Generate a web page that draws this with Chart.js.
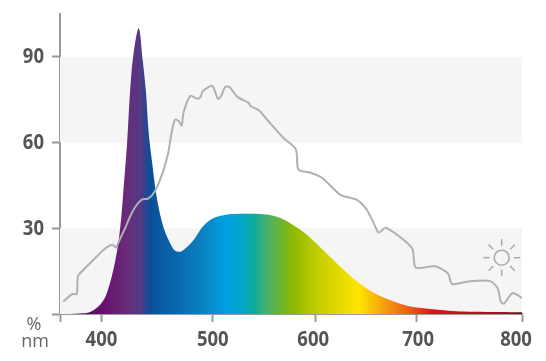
<!DOCTYPE html>
<html>
<head>
<meta charset="utf-8">
<style>html,body{margin:0;padding:0;background:#fff}#wrap{width:546px;height:361px}</style>
<script src="https://cdn.jsdelivr.net/npm/chart.js@4"></script>
</head>
<body>
<div id="wrap"><canvas id="c" width="546" height="361"></canvas></div>
<script>
// LED spectrum (wavelength nm, relative %)
const ledNm = [363,381,390,399,405,412.6,417,420,423,426,429,433.5,437,440,442.4,445.5,450,456,462,466,471,475,483,491,500,514,530,546,559,569,579,591,608,625,640,657,674,690,707,723,738,754,780,800];
const ledPct = [0,0.2,0.7,3.3,7.4,19,30.7,44.7,59.8,79.7,91.5,100,89,77.5,63.4,53,40,30,24.5,22.2,21.8,22.8,26,30.6,33.4,34.8,35.1,35,34.4,33.1,31,28,22.3,16.5,11.8,7.6,4.9,3,2,1.4,1,0.8,0.7,0.6];
// Daylight reference spectrum
const sunNm = [366,374,378,379,384,393,402,410,413,415,422,428,436,442,448,455,460,463,466,469.5,472,474,480,486,489,491,499,501.5,505,508,512,516,524,535,537,545,553,569,581,583,586,595,607,625,641,651,658,663,670,696,699.5,718,730,734,751,770,777,780,783,791,800];
const sunPct = [4.4,7,7,13.2,15.5,19,22.5,24.2,23.2,24.8,30.7,36,40,40.4,43,49.5,56.5,63.5,68,67.5,66,71,76.4,75.3,76,78,79.9,78.5,75.3,76.2,79.5,79.5,76,73.9,72.7,71.3,68,61.6,57.7,51,50.1,49.5,47.6,41.7,40,36.5,31.8,28.5,30.2,23,16.3,16.7,14.2,10.5,11.5,11.5,9,4.3,3.6,7.3,5.6];
// Axis ticks
const xTickValues = [363,400,500,600,700,800];
const xTickLabels = ['','400','500','600','700','800'];
const xTickFractions = [0,0.0897,0.3308,0.5524,0.7708,1];
const yTickValues = [0,30,60,90];
// Spectrum colours along the wavelength axis
const spectrumNm = [363,399,422,435,444,457,489,512,527,541,548,578,605,643,670,694,715,751,784,800];
const spectrumColors = ['#3a0a50','#660d6e','#6a2a7a','#533a84','#0a4f9a','#0a5ea5','#0a7fc0','#009fe0','#00a6c8','#10ab9a','#3aae80','#8cb900','#c8cf00','#ffe600','#f49a10','#ea5a14','#e4101c','#c80a1a','#a01020','#5a1010'];
const bands = [[0,30],[60,90]];

const xMin = xTickValues[0], xMax = xTickValues[xTickValues.length-1];
const squeeze = 0.84;
const toFraction = v => {
  let i = 0;
  while (i < xTickValues.length-2 && v > xTickValues[i+1]) i++;
  const a = xTickValues[i], b = xTickValues[i+1];
  return xTickFractions[i] + (v-a)/(b-a)*(xTickFractions[i+1]-xTickFractions[i]);
};
// Tick labels in the reference are a condensed face: squeeze them horizontally.
class CondensedScale extends Chart.LinearScale {
  labelNudge(){ return {}; }
  _computeLabelArea(){ return undefined; }
  _computeLabelItems(area){
    const items = super._computeLabelItems(area);
    const nudge = this.labelNudge();
    items.forEach(it => {
      const n = nudge[it.label] || 0;
      it.options.translation = [(it.options.translation[0]+n)/squeeze, it.options.translation[1]];
    });
    return items;
  }
  drawLabels(area){
    const ctx = this.ctx;
    ctx.save();
    ctx.scale(squeeze,1);
    super.drawLabels(area);
    ctx.restore();
  }
}
CondensedScale.id = 'condensed';
CondensedScale.defaults = Chart.LinearScale.defaults;
// The printed wavelength axis is not perfectly uniform: map it piecewise.
class SpectrumScale extends CondensedScale {
  getPixelForValue(v){ return this.getPixelForDecimal(toFraction(v)); }
  labelNudge(){ return {'600':-2,'700':2,'800':-6}; }
}
SpectrumScale.id = 'spectrum';
SpectrumScale.defaults = Chart.LinearScale.defaults;
Chart.register(CondensedScale, SpectrumScale);

const decor = {
  id:'decor',
  beforeDatasetsDraw(chart){
    const {ctx, chartArea:a, scales:{y}} = chart;
    ctx.save();
    ctx.fillStyle = '#f5f5f5';
    bands.forEach(([lo,hi]) => {
      const t = y.getPixelForValue(hi), b = y.getPixelForValue(lo);
      ctx.fillRect(a.left, t, a.right-a.left, b-t);
    });
    ctx.restore();
  },
  afterDraw(chart){
    const {ctx} = chart;
    ctx.save();
    // sun symbol
    const cx = 501.7, cy = 257.7;
    ctx.strokeStyle = '#adadad';
    ctx.lineWidth = 1.6;
    ctx.beginPath(); ctx.arc(cx,cy,7.5,0,Math.PI*2); ctx.stroke();
    for (let k=0;k<8;k++){
      const t = k*Math.PI/4;
      ctx.beginPath();
      ctx.moveTo(cx+Math.cos(t)*12, cy+Math.sin(t)*12);
      ctx.lineTo(cx+Math.cos(t)*18.5, cy+Math.sin(t)*18.5);
      ctx.stroke();
    }
    // unit labels
    ctx.fillStyle = '#666';
    ctx.font = '18px "Open Sans", sans-serif';
    ctx.textAlign = 'center';
    ctx.textBaseline = 'middle';
    ctx.fillText('%', 34, 325);
    ctx.fillText('nm', 35, 342);
    ctx.restore();
  }
};

const tickFont = {family:'"Open Sans",sans-serif',weight:'bold',size:22};

new Chart(document.getElementById('c'), {
  type:'line',
  data:{
    datasets:[
      {
        label:'LED',
        order:2,
        data: ledNm.map((x,i)=>({x,y:ledPct[i]})),
        borderWidth:0,
        pointRadius:0,
        fill:'origin',
        tension:0.35,
        backgroundColor(c){
          const {chart} = c;
          if (!chart.chartArea) return '#0a7fc0';
          const s = chart.scales.x, l = s.left, r = s.right;
          const g = chart.ctx.createLinearGradient(l,0,r,0);
          spectrumNm.forEach((n,i)=>g.addColorStop((s.getPixelForValue(n)-l)/(r-l), spectrumColors[i]));
          return g;
        }
      },
      {
        label:'Daylight',
        order:1,
        data: sunNm.map((x,i)=>({x,y:sunPct[i]})),
        borderColor:'#b0b0b0',
        borderWidth:2,
        pointRadius:0,
        fill:false,
        tension:0.25
      }
    ]
  },
  options:{
    responsive:false,
    animation:false,
    events:[],
    layout:{padding:{top:14,right:24,left:0,bottom:0}},
    plugins:{legend:{display:false},tooltip:{enabled:false},title:{display:false}},
    scales:{
      x:{
        type:'spectrum',
        min:xMin,max:xMax,
        afterBuildTicks(s){ s.ticks = xTickValues.map(value=>({value})); },
        afterFit(s){ s.height = 47; s.paddingLeft = 0; s.paddingRight = 0; },
        grid:{display:true,drawOnChartArea:false,drawTicks:true,tickLength:8,tickColor:'#999',tickWidth:2},
        border:{display:true,color:'#999',width:2},
        ticks:{
          autoSkip:false,maxRotation:0,padding:5,color:'#555',font:tickFont,
          callback(v){ const i = xTickValues.indexOf(v); return i<0?'':xTickLabels[i]; }
        }
      },
      y:{
        type:'condensed',
        min:0,max:105,
        afterBuildTicks(s){ s.ticks = yTickValues.map(value=>({value})); },
        afterFit(s){ s.width = 60; s.paddingTop = 0; s.paddingBottom = 0; },
        grid:{display:true,drawOnChartArea:false,drawTicks:true,tickLength:8,tickColor:'#999',tickWidth:2},
        border:{display:true,color:'#999',width:2},
        ticks:{
          padding:8,color:'#555',font:tickFont,
          callback(v){ return v===0?'':String(v); }
        }
      }
    }
  },
  plugins:[decor]
});
</script>
</body>
</html>
